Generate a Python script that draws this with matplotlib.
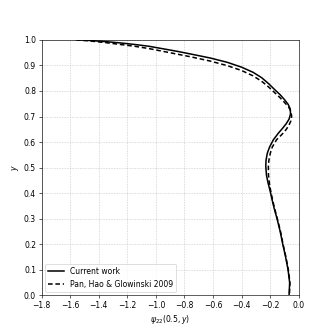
import numpy as np
import matplotlib
matplotlib.use('Agg')
import matplotlib.pyplot as plt

# psi_22(0.5, y) profiles
y_cur = [1.000, 0.997, 0.993, 0.988, 0.982, 0.975, 0.965, 0.955, 0.945, 0.929,
         0.912, 0.893, 0.873, 0.852, 0.828, 0.806, 0.785, 0.766, 0.748, 0.730,
         0.710, 0.690, 0.672, 0.655, 0.635, 0.609, 0.580, 0.557, 0.530, 0.505,
         0.470, 0.440, 0.410, 0.375, 0.340, 0.300, 0.250, 0.200, 0.150, 0.100,
         0.050, 0.000]
psi_cur = [-1.53, -1.45, -1.35, -1.25, -1.15, -1.05, -0.95, -0.85, -0.76, -0.62,
           -0.50, -0.40, -0.32, -0.26, -0.21, -0.17, -0.13, -0.10, -0.075, -0.060,
           -0.058, -0.068, -0.088, -0.112, -0.143, -0.178, -0.205, -0.220, -0.229, -0.231,
           -0.226, -0.215, -0.201, -0.187, -0.172, -0.152, -0.130, -0.112, -0.092, -0.075,
           -0.064, -0.068]

y_pan = [1.000, 0.995, 0.989, 0.982, 0.975, 0.966, 0.955, 0.944, 0.934, 0.917,
         0.899, 0.880, 0.859, 0.838, 0.815, 0.794, 0.773, 0.755, 0.738, 0.720,
         0.700, 0.682, 0.665, 0.648, 0.630, 0.609, 0.580, 0.557, 0.530, 0.505,
         0.470, 0.440, 0.410, 0.375, 0.340, 0.300, 0.250, 0.200, 0.150, 0.100,
         0.050, 0.000]
psi_pan = [-1.56, -1.45, -1.35, -1.25, -1.15, -1.05, -0.95, -0.85, -0.76, -0.62,
           -0.50, -0.40, -0.32, -0.26, -0.21, -0.17, -0.13, -0.10, -0.072, -0.055,
           -0.050, -0.056, -0.070, -0.090, -0.118, -0.156, -0.186, -0.199, -0.209, -0.213,
           -0.212, -0.206, -0.197, -0.184, -0.169, -0.150, -0.128, -0.110, -0.090, -0.073,
           -0.062, -0.066]

dpi = 332 / 6
fig = plt.figure(figsize=(6, 6), dpi=dpi)
plt.plot(psi_cur, y_cur, 'k-', lw=2.0, label='Current work')
plt.plot(psi_pan, y_pan, 'k--', lw=2.0, dashes=(3, 1.8), label='Pan, Hao & Glowinski 2009')
plt.xlabel(r'$\psi_{22}(0.5, y)$')
plt.ylabel(r'$y$')
plt.xlim(-1.8, 0)
plt.ylim(0, 1)
plt.xticks(np.arange(-1.8, 0.01, 0.2))
plt.yticks(np.arange(0, 1.01, 0.1))
plt.grid(True, linestyle=':')
plt.legend(loc='lower left')
plt.savefig('out.png', dpi=dpi)
plt.close()
